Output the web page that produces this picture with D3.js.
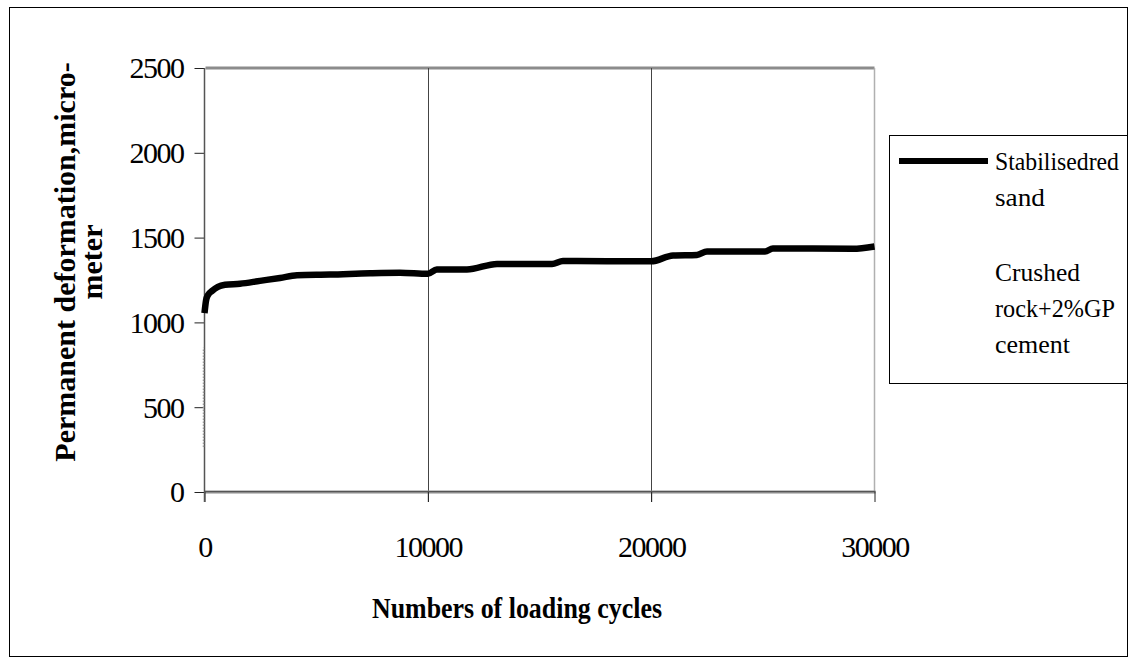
<!DOCTYPE html>
<html>
<head>
<meta charset="utf-8">
<script src="https://cdn.jsdelivr.net/npm/d3@7"></script>
<style>
  html, body { margin: 0; padding: 0; background: #fff; }
  svg { display: block; }
  text { font-family: "Liberation Serif", "Times New Roman", serif; fill: #000; }
</style>
</head>
<body>
<svg id="chart" width="1136" height="666"></svg>
<script>
// ---- data ----
const xTicks = [0, 10000, 20000, 30000];
const yTicks = [0, 500, 1000, 1500, 2000, 2500];
const redSandCycles = [0, 70, 150, 335, 600, 920, 1590, 2485, 3380, 4140, 5620, 7410, 8750, 10000, 10400, 11750, 13100, 15560, 16050, 20000, 20980, 22050, 22500, 25100, 25450, 29030, 30000];
const redSandDeform = [1055, 1130, 1160, 1185, 1210, 1222, 1228, 1245, 1262, 1278, 1282, 1290, 1293, 1287, 1312, 1312, 1345, 1345, 1362, 1360, 1395, 1398, 1418, 1418, 1436, 1434, 1448];
const crushedCycles = [0, 0, 0];
const crushedDeform = [265, 560, 850];
const legendLabels = [["Stabilisedred", "sand"], ["Crushed", "rock+2%GP", "cement"]];
const xTitle = "Numbers of loading cycles";
const yTitle = ["Permanent deformation,micro-", "meter"];

// ---- layout ----
const svg = d3.select("#chart");
const X0 = 204.5, X1 = 874.5, Y0 = 492, Y1 = 68;
const x = d3.scaleLinear().domain([0, 30000]).range([X0, X1]);
const y = d3.scaleLinear().domain([0, 2500]).range([Y0, Y1]);

// outer frame
svg.append("rect").attr("x", 9.5).attr("y", 7.5).attr("width", 1118).attr("height", 649)
  .attr("fill", "none").attr("stroke", "#000").attr("stroke-width", 1);

// plot frame: top gridline (2500) thick gray, right border light gray
svg.append("line").attr("x1", X0 + 1).attr("x2", X1).attr("y1", y(2500)).attr("y2", y(2500))
  .attr("stroke", "#8c8c8c").attr("stroke-width", 3);
svg.append("line").attr("x1", X1).attr("x2", X1).attr("y1", Y1).attr("y2", Y0)
  .attr("stroke", "#b0b0b0").attr("stroke-width", 1.5);

// vertical gridlines
svg.append("g").selectAll("line").data(xTicks.filter(d => d > 0 && d < 30000)).join("line")
  .attr("x1", d => Math.round(x(d)) + 0.5).attr("x2", d => Math.round(x(d)) + 0.5)
  .attr("y1", Y1).attr("y2", Y0 + 10)
  .attr("stroke", "#444").attr("stroke-width", 1);

// x axis
svg.append("line").attr("x1", X0).attr("x2", X1 + 1).attr("y1", Y0).attr("y2", Y0)
  .attr("stroke", "#8c8c8c").attr("stroke-width", 3);
svg.append("line").attr("x1", X0).attr("x2", X1 + 1).attr("y1", Y0 - 0.5).attr("y2", Y0 - 0.5)
  .attr("stroke", "#555").attr("stroke-width", 1);
const xAxis = svg.append("g").attr("transform", `translate(0,${Y0})`)
  .call(d3.axisBottom(x).tickValues(xTicks).tickSize(10).tickSizeOuter(0).tickFormat(d3.format("d")));
xAxis.select(".domain").remove();
xAxis.selectAll(".tick line").attr("stroke", "#222");
xAxis.selectAll(".tick text").attr("font-size", 30).attr("dy", 0).attr("y", 65)
  .attr("letter-spacing", -1.5).attr("font-family", "Liberation Serif");

// y axis
const yAxis = svg.append("g").attr("transform", `translate(${X0},0)`)
  .call(d3.axisLeft(y).tickValues(yTicks).tickSize(10).tickSizeOuter(0).tickFormat(d3.format("d")));
yAxis.select(".domain").remove();
svg.append("line").attr("x1", X0).attr("x2", X0).attr("y1", Y1).attr("y2", Y0 + 10)
  .attr("stroke", "#555").attr("stroke-width", 1.5);
yAxis.selectAll(".tick line").attr("stroke", "#222");
yAxis.selectAll(".tick text").attr("font-size", 30).attr("x", -21).attr("dy", "0.33em")
  .attr("letter-spacing", -1.5).attr("font-family", "Liberation Serif");

// series 2 (dotted, light)
const line = d3.line().x(d => x(d[0])).y(d => y(d[1]));
svg.append("path").datum(d3.zip(crushedCycles, crushedDeform))
  .attr("d", line).attr("fill", "none").attr("stroke", "#999").attr("stroke-width", 1.5)
  .attr("stroke-dasharray", "1.5,1.5").attr("transform", "translate(-1,0)");

// series 1
svg.append("path").datum(d3.zip(redSandCycles, redSandDeform))
  .attr("d", line.curve(d3.curveMonotoneX)).attr("fill", "none").attr("stroke", "#000")
  .attr("stroke-width", 6.5).attr("stroke-linejoin", "round");

// legend
svg.append("rect").attr("x", 889.5).attr("y", 135.5).attr("width", 238).attr("height", 248)
  .attr("fill", "#fff").attr("stroke", "#000").attr("stroke-width", 1);
svg.append("line").attr("x1", 899).attr("x2", 988).attr("y1", 161).attr("y2", 161)
  .attr("stroke", "#000").attr("stroke-width", 6);
const legendLines = [
  {t: legendLabels[0][0], y: 170, w: 124},
  {t: legendLabels[0][1], y: 206, w: 50},
  {t: legendLabels[1][0], y: 281, w: 85},
  {t: legendLabels[1][1], y: 317, w: 120},
  {t: legendLabels[1][2], y: 353, w: 75}
];
svg.append("g").selectAll("text").data(legendLines).join("text")
  .attr("x", 995).attr("y", d => d.y).attr("font-size", 26)
  .attr("textLength", d => d.w).attr("lengthAdjust", "spacingAndGlyphs")
  .text(d => d.t);

// axis titles
svg.append("text").attr("x", 517).attr("y", 618).attr("text-anchor", "middle")
  .attr("font-size", 30).attr("font-weight", "bold")
  .attr("textLength", 290).attr("lengthAdjust", "spacingAndGlyphs").text(xTitle);

svg.append("text").attr("transform", "translate(75,262) rotate(-90)")
  .attr("text-anchor", "middle").attr("font-size", 30).attr("font-weight", "bold")
  .text(yTitle[0]);
svg.append("text").attr("transform", "translate(102,262) rotate(-90)")
  .attr("text-anchor", "middle").attr("font-size", 30).attr("font-weight", "bold")
  .text(yTitle[1]);
</script>
</body>
</html>
